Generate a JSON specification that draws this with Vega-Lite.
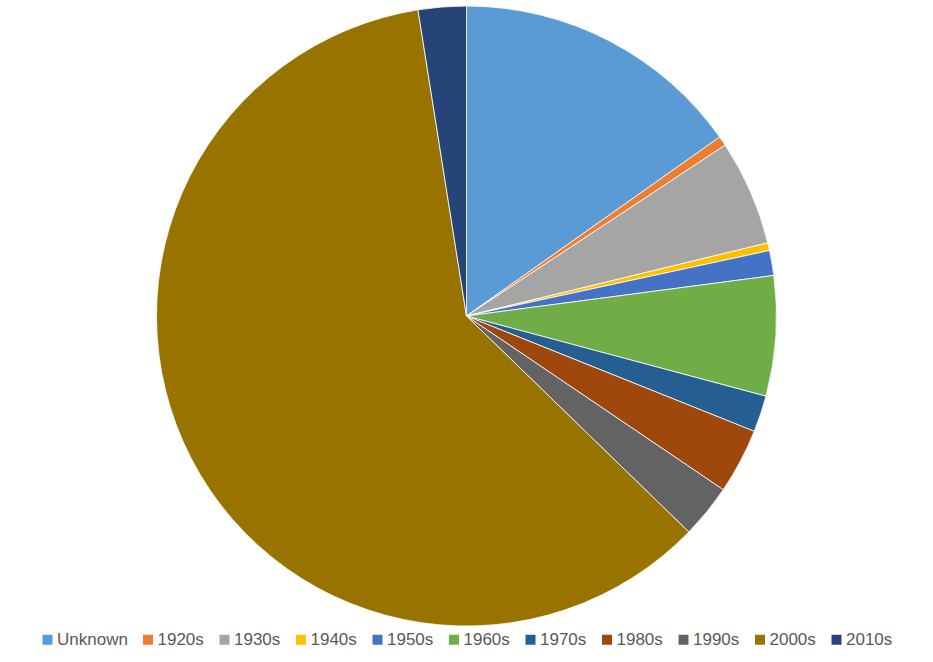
{
  "$schema": "https://vega.github.io/schema/vega-lite/v6.json",
  "width": 933,
  "height": 632,
  "autosize": {"type": "none"},
  "padding": {"top": 0, "bottom": 30, "left": 0, "right": 0},
  "background": "white",
  "view": {"stroke": null},
  "data": {
    "values": [
      {"decade": "Unknown", "share": 15.2, "order": 1},
      {"decade": "1920s", "share": 0.5, "order": 2},
      {"decade": "1930s", "share": 5.5, "order": 3},
      {"decade": "1940s", "share": 0.4, "order": 4},
      {"decade": "1950s", "share": 1.3, "order": 5},
      {"decade": "1960s", "share": 6.25, "order": 6},
      {"decade": "1970s", "share": 1.9, "order": 7},
      {"decade": "1980s", "share": 3.4, "order": 8},
      {"decade": "1990s", "share": 2.8, "order": 9},
      {"decade": "2000s", "share": 60.2, "order": 10},
      {"decade": "2010s", "share": 2.5, "order": 11}
    ]
  },
  "mark": {"type": "arc", "outerRadius": 310, "stroke": "white", "strokeWidth": 0.8},
  "encoding": {
    "theta": {"field": "share", "type": "quantitative", "stack": true},
    "order": {"field": "order", "type": "quantitative"},
    "color": {
      "field": "decade",
      "type": "nominal",
      "sort": ["Unknown", "1920s", "1930s", "1940s", "1950s", "1960s", "1970s", "1980s", "1990s", "2000s", "2010s"],
      "scale": {
        "domain": ["Unknown", "1920s", "1930s", "1940s", "1950s", "1960s", "1970s", "1980s", "1990s", "2000s", "2010s"],
        "range": ["#5B9BD5", "#ED7D31", "#A5A5A5", "#FFC000", "#4472C4", "#70AD47", "#255E91", "#9E480E", "#636363", "#997300", "#264478"]
      },
      "legend": {
        "orient": "none",
        "legendX": 39,
        "legendY": 631,
        "direction": "horizontal",
        "columns": 11,
        "title": null,
        "symbolType": "square",
        "symbolSize": 100,
        "symbolStrokeWidth": 0,
        "labelFont": "Liberation Sans",
        "labelFontSize": 17,
        "labelColor": "#595959",
        "labelOffset": 1,
        "columnPadding": 11.5,
        "padding": 0
      }
    }
  }
}
